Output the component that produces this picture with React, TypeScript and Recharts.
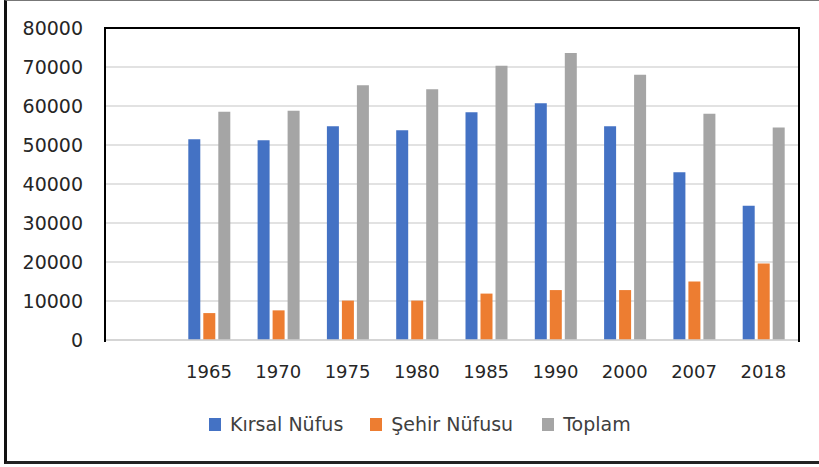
import React from 'react';
import {
  BarChart,
  Bar,
  XAxis,
  YAxis,
  CartesianGrid,
  Legend,
} from 'recharts';

const years = ['', '1965', '1970', '1975', '1980', '1985', '1990', '2000', '2007', '2018'];
const kirsal = [null, 51500, 51200, 54800, 53800, 58400, 60700, 54800, 43000, 34400];
const sehir = [null, 6900, 7600, 10100, 10100, 11900, 12800, 12800, 15000, 19600];
const toplam = [null, 58500, 58800, 65300, 64300, 70300, 73600, 68000, 58000, 54500];
const yTicks = [0, 10000, 20000, 30000, 40000, 50000, 60000, 70000, 80000];

const seriesNames = ['Kırsal Nüfus', 'Şehir Nüfusu', 'Toplam'];
const seriesColors = ['#4472C4', '#ED7D31', '#A5A5A5'];

const data = years.map((y, i) => ({
  year: y,
  kirsal: kirsal[i],
  sehir: sehir[i],
  toplam: toplam[i],
}));

const FONT = '"DejaVu Sans", sans-serif';

function LegendRow() {
  return (
    <div style={{ display: 'flex', alignItems: 'center', paddingLeft: 209, height: 40, fontFamily: FONT, fontSize: 19, color: '#404040' }}>
      {seriesNames.map((name, i) => (
        <div key={name} style={{ display: 'flex', alignItems: 'center', marginRight: i === 0 ? 27 : 29 }}>
          <span style={{ display: 'inline-block', width: 12, height: 13, background: seriesColors[i], marginRight: 9 }} />
          <span>{name}</span>
        </div>
      ))}
    </div>
  );
}

export default function App() {
  return (
    <div style={{ position: 'absolute', left: 0, top: 0, width: 819, height: 467, background: '#fff', overflow: 'hidden' }}>
      <div
        style={{
          position: 'absolute',
          left: 4,
          top: 0,
          width: 830,
          height: 460,
          borderLeft: '3px solid #111',
          borderBottom: '3px solid #222',
          borderTop: '1px solid #777',
        }}
      />
      <div style={{ position: 'absolute', left: 0, top: 0 }}>
        <BarChart
          width={819}
          height={467}
          data={data}
          margin={{ top: 28, right: 21, left: 0, bottom: 23 }}
          barSize={12}
          barGap={3}
        >
          <CartesianGrid vertical={false} stroke="#d9d9d9" strokeWidth={1.5} />
          <XAxis
            dataKey="year"
            height={64}
            axisLine={{ stroke: '#d0d0d0', strokeWidth: 1.5 }}
            tickLine={false}
            tickSize={0}
            tickMargin={25}
            tick={{ fontFamily: FONT, fontSize: 18, fill: '#262626' }}
            interval={0}
          />
          <YAxis
            width={105}
            domain={[0, 80000]}
            ticks={yTicks}
            axisLine={false}
            tickLine={false}
            tickSize={0}
            tickMargin={22}
            tick={{ fontFamily: FONT, fontSize: 19, fill: '#262626' }}
            interval={0}
          />
          <Legend
            verticalAlign="bottom"
            height={40}
            wrapperStyle={{ left: 0, width: 819 }}
            content={() => <LegendRow />}
          />
          <Bar dataKey="kirsal" name={seriesNames[0]} fill={seriesColors[0]} isAnimationActive={false} />
          <Bar dataKey="sehir" name={seriesNames[1]} fill={seriesColors[1]} isAnimationActive={false} />
          <Bar dataKey="toplam" name={seriesNames[2]} fill={seriesColors[2]} isAnimationActive={false} />
        </BarChart>
      </div>
      {/* plot area frame: black on top, left and right */}
      <div
        style={{
          position: 'absolute',
          left: 104,
          top: 27,
          width: 692,
          height: 313,
          borderTop: '2.5px solid #000',
          borderLeft: '2.5px solid #000',
          borderRight: '2.5px solid #000',
          pointerEvents: 'none',
        }}
      />
    </div>
  );
}
